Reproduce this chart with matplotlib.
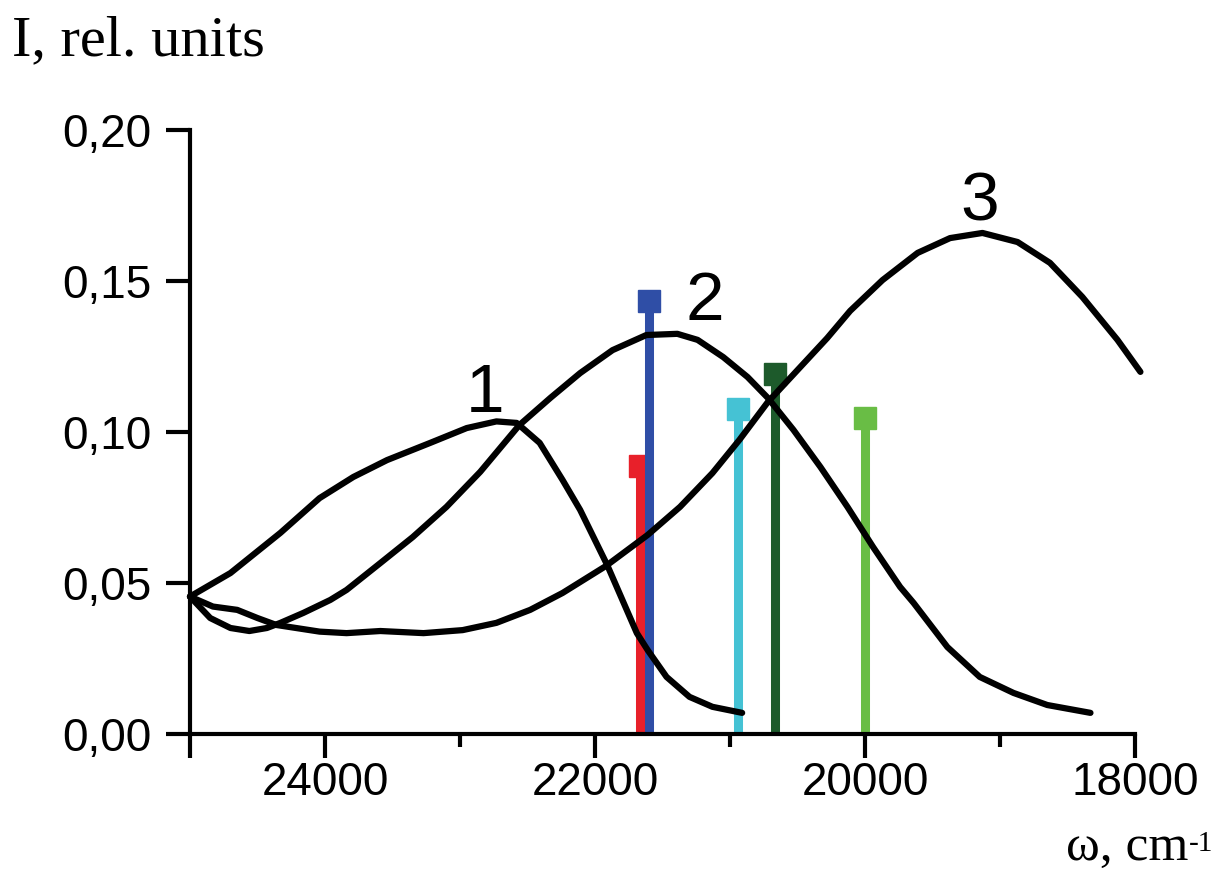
import matplotlib
matplotlib.use('Agg')
import matplotlib.pyplot as plt

plt.rcParams['font.family'] = ['Liberation Sans', 'DejaVu Sans']

# Spectra (wavenumber, cm-1 / intensity, rel. units)
w1 = [25000, 24700, 24330, 24040, 23790, 23540, 23220, 22950, 22730, 22580,
      22410, 22240, 22110, 21910, 21690, 21610, 21470, 21300, 21130, 20910]
i1 = [0.0454, 0.0532, 0.0665, 0.0780, 0.0850, 0.0906, 0.0963, 0.1012, 0.1034, 0.1029,
      0.0963, 0.0840, 0.0741, 0.0559, 0.0333, 0.0277, 0.0188, 0.0122, 0.0089, 0.0069]

w2 = [25000, 24850, 24700, 24560, 24430, 24330, 24160, 23960, 23840, 23590,
      23350, 23100, 22850, 22560, 22330, 22110, 21870, 21620, 21390, 21240,
      21050, 20870, 20720, 20530, 20330, 20130, 19940, 19740, 19640, 19390,
      19150, 18900, 18650, 18330]
i2 = [0.0454, 0.0383, 0.0350, 0.0340, 0.0350, 0.0367, 0.0400, 0.0443, 0.0476, 0.0565,
      0.0651, 0.0751, 0.0867, 0.1022, 0.1112, 0.1194, 0.1270, 0.1320, 0.1324, 0.1304,
      0.1247, 0.1181, 0.1112, 0.1006, 0.0883, 0.0751, 0.0618, 0.0486, 0.0433, 0.0287,
      0.0188, 0.0135, 0.0095, 0.0069]

w3 = [25000, 24830, 24650, 24500, 24360, 24040, 23840, 23590, 23270, 22980,
      22730, 22480, 22240, 21920, 21610, 21370, 21130, 20930, 20720, 20500,
      20280, 20110, 19870, 19610, 19370, 19130, 18870, 18630, 18390, 18130, 17960]
i3 = [0.0454, 0.0421, 0.0410, 0.0383, 0.0360, 0.0338, 0.0333, 0.0340, 0.0333, 0.0343,
      0.0367, 0.0410, 0.0466, 0.0555, 0.0658, 0.0751, 0.0863, 0.0973, 0.1098, 0.1204,
      0.1310, 0.1400, 0.1502, 0.1592, 0.1641, 0.1658, 0.1628, 0.1559, 0.1446, 0.1304, 0.1198]

# Calculated lines
line_pos = [21670, 21600, 20940, 20670, 20000]
line_int = [0.0886, 0.1433, 0.1075, 0.1190, 0.1045]
line_colors = ['#e8202a', '#2f4ea6', '#45c2d4', '#1d5a2b', '#69bd45']

# Curve labels
lab_text = ['1', '2', '3']
lab_w = [22815, 21185, 19148]
lab_i = [0.1065, 0.137, 0.170]

xticks = [25000, 24000, 22000, 20000, 18000]
xtick_labels = ['', '24000', '22000', '20000', '18000']
xminor = [23000, 21000, 19000]
yticks = [0.00, 0.05, 0.10, 0.15, 0.20]
ytick_labels = ['0,00', '0,05', '0,10', '0,15', '0,20']

fig = plt.figure(figsize=(12.24, 8.72), dpi=100)
ax = fig.add_axes([0.1552, 0.1586, 0.7721, 0.6927])

for x, h, c in zip(line_pos, line_int, line_colors):
    ax.vlines(x, 0, h, colors=c, linewidth=6.5, zorder=2)
    ax.plot([x], [h], marker='s', markersize=15.5, color=c, linestyle='none', zorder=2)

for w, i in [(w1, i1), (w2, i2), (w3, i3)]:
    ax.plot(w, i, color='black', linewidth=4.5, solid_joinstyle='round',
            solid_capstyle='round', clip_on=False, zorder=3)

for t, x, y in zip(lab_text, lab_w, lab_i):
    ax.text(x, y, t, ha='center', va='baseline', fontsize=50)

ax.set_xlim(25000, 18000)
ax.set_ylim(0, 0.2)

ax.spines['top'].set_visible(False)
ax.spines['right'].set_visible(False)
ax.spines['left'].set_linewidth(3)
ax.spines['bottom'].set_linewidth(3)

ax.set_xticks(xticks)
ax.set_xticklabels(xtick_labels)
ax.set_xticks(xminor, minor=True)
ax.set_yticks(yticks)
ax.set_yticklabels(ytick_labels)

ax.tick_params(axis='x', which='major', length=17, width=3, labelsize=33, pad=3)
ax.tick_params(axis='x', which='minor', length=9, width=3)
ax.tick_params(axis='y', which='major', length=17, width=3, labelsize=33, pad=11)

# Axis titles in serif font
fig.text(12 / 1224, 1 - 55 / 872, 'I, rel. units', family='Liberation Serif',
         fontsize=42, ha='left', va='baseline')
xl = fig.text(1066 / 1224, 1 - 860 / 872, 'ω, cm', family='Liberation Serif',
              fontsize=37, ha='left', va='baseline')
ax.annotate('-1', xy=(1, 1), xycoords=xl, xytext=(0, -5), textcoords='offset points',
            family='Liberation Serif', fontsize=21, ha='left', va='top',
            annotation_clip=False)

fig.savefig('out.png', dpi=100)
